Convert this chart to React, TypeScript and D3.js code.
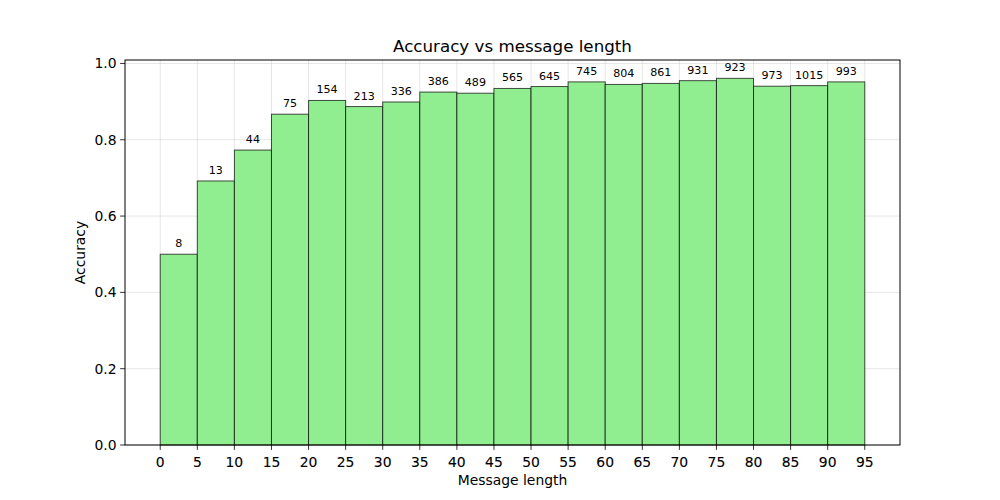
import React from "react";
import * as d3 from "d3";

// bin start (message length), bins are 5 wide
const binStarts = [0, 5, 10, 15, 20, 25, 30, 35, 40, 45, 50, 55, 60, 65, 70, 75, 80, 85, 90];
const accuracy = [
  0.5, 0.692, 0.773, 0.867, 0.903, 0.887, 0.899, 0.925, 0.922, 0.9345,
  0.9395, 0.9517, 0.945, 0.9477, 0.9549, 0.961, 0.9404, 0.9419, 0.9517,
];
const counts = [8, 13, 44, 75, 154, 213, 336, 386, 489, 565, 645, 745, 804, 861, 931, 923, 973, 1015, 993];
const xTicks = [0, 5, 10, 15, 20, 25, 30, 35, 40, 45, 50, 55, 60, 65, 70, 75, 80, 85, 90, 95];
const yTicks = [0, 0.2, 0.4, 0.6, 0.8, 1.0];
const binWidth = 5;

const width = 1000;
const height = 500;
const marginLeft = 125;
const marginRight = 100;
const marginTop = 60;
const marginBottom = 55;
const font = "DejaVu Sans, sans-serif";

export default function App() {
  const xMax = 95;
  const pad = xMax * 0.05;
  const x = d3.scaleLinear()
    .domain([-pad, xMax + pad])
    .range([marginLeft, width - marginRight]);

  const yTop = (d3.max(accuracy) as number) * 1.05;
  const y = d3.scaleLinear()
    .domain([0, yTop])
    .range([height - marginBottom, marginTop]);

  const data = binStarts.map((s, i) => ({ start: s, acc: accuracy[i], n: counts[i] }));
  const bottom = height - marginBottom;

  return (
    <svg width={width} height={height} style={{ position: "absolute", left: 0, top: 0, background: "#fff" }}
      fontFamily={font}>
      {/* grid */}
      <g stroke="#b0b0b0" strokeOpacity={0.4} strokeWidth={0.8}>
        {xTicks.map(t => (
          <line key={"gx" + t} x1={x(t)} x2={x(t)} y1={marginTop} y2={bottom} />
        ))}
        {yTicks.map(t => (
          <line key={"gy" + t} x1={marginLeft} x2={width - marginRight} y1={y(t)} y2={y(t)} />
        ))}
      </g>

      {/* bars */}
      <g fill="#90ee90" stroke="#000" strokeOpacity={0.7} strokeWidth={1}>
        {data.map(d => (
          <rect key={d.start} x={x(d.start)} y={y(d.acc)}
            width={x(d.start + binWidth) - x(d.start)} height={bottom - y(d.acc)} />
        ))}
      </g>

      {/* count labels */}
      <g fontSize={11.1} fill="#000" textAnchor="middle">
        {data.map(d => (
          <text key={"l" + d.start} x={x(d.start + binWidth / 2)} y={y(d.acc) - 7}>{d.n}</text>
        ))}
      </g>

      {/* frame */}
      <rect x={marginLeft} y={marginTop} width={width - marginLeft - marginRight}
        height={bottom - marginTop} fill="none" stroke="#000" strokeWidth={1} />

      {/* x axis */}
      <g fontSize={13.9} textAnchor="middle">
        {xTicks.map(t => (
          <g key={"xt" + t}>
            <line x1={x(t)} x2={x(t)} y1={bottom} y2={bottom + 4.9} stroke="#000" strokeWidth={0.8} />
            <text x={x(t)} y={bottom + 22} fill="#000" stroke="#000" strokeWidth={0.12}>{t}</text>
          </g>
        ))}
      </g>
      <text x={(marginLeft + width - marginRight) / 2} y={485} fontSize={13.9} textAnchor="middle">
        Message length
      </text>

      {/* y axis */}
      <g fontSize={13.9} textAnchor="end">
        {yTicks.map(t => (
          <g key={"yt" + t}>
            <line x1={marginLeft - 4.9} x2={marginLeft} y1={y(t)} y2={y(t)} stroke="#000" strokeWidth={0.8} />
            <text x={marginLeft - 8.5} y={y(t)} dy="0.35em" fill="#000">{d3.format(".1f")(t)}</text>
          </g>
        ))}
      </g>
      <text transform={`translate(85,${(marginTop + bottom) / 2}) rotate(-90)`} fontSize={13.9} textAnchor="middle">
        Accuracy
      </text>

      {/* title */}
      <text x={(marginLeft + width - marginRight) / 2} y={52} fontSize={16.7} textAnchor="middle">
        Accuracy vs message length
      </text>
    </svg>
  );
}
